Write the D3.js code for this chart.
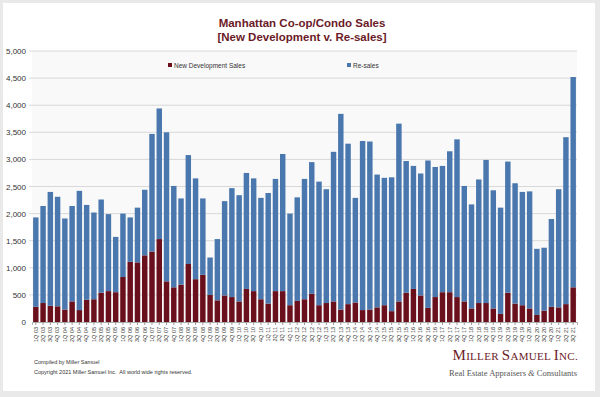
<!DOCTYPE html>
<html>
<head>
<meta charset="utf-8">
<script src="https://cdn.jsdelivr.net/npm/d3@7"></script>
<style>
  body { margin: 0; background: #e9e9e9; }
  svg { display: block; font-family: "Liberation Sans", Arial, sans-serif; }
</style>
</head>
<body>
<div id="chart"></div>
<script>
const quarters = ["1Q 03","2Q 03","3Q 03","4Q 03","1Q 04","2Q 04","3Q 04","4Q 04","1Q 05","2Q 05","3Q 05","4Q 05",
  "1Q 06","2Q 06","3Q 06","4Q 06","1Q 07","2Q 07","3Q 07","4Q 07","1Q 08","2Q 08","3Q 08","4Q 08",
  "1Q 09","2Q 09","3Q 09","4Q 09","1Q 10","2Q 10","3Q 10","4Q 10","1Q 11","2Q 11","3Q 11","4Q 11",
  "1Q 12","2Q 12","3Q 12","4Q 12","1Q 13","2Q 13","3Q 13","4Q 13","1Q 14","2Q 14","3Q 14","4Q 14",
  "1Q 15","2Q 15","3Q 15","4Q 15","1Q 16","2Q 16","3Q 16","4Q 16","1Q 17","2Q 17","3Q 17","4Q 17",
  "1Q 18","2Q 18","3Q 18","4Q 18","1Q 19","2Q 19","3Q 19","4Q 19","1Q 20","2Q 20","3Q 20","4Q 20",
  "1Q 21","2Q 21","3Q 21"]

const newDev = [280,350,300,290,230,380,220,410,420,540,570,550,
  830,1110,1100,1230,1300,1530,750,640,690,1070,790,870,
  500,400,490,460,380,610,570,420,340,570,570,310,
  390,420,520,310,350,380,230,330,360,220,230,270,
  310,200,380,540,610,490,260,460,550,550,460,380,
  250,350,350,250,150,540,340,310,250,130,210,280,
  270,330,640]

const resales = [1650,1790,2100,2020,1680,1760,2200,1750,1600,1720,1420,1020,
  1170,820,1010,1210,2170,2410,2750,1870,1590,2010,1860,1410,
  690,1130,1740,2010,1960,2140,2080,1870,2040,2070,2530,1690,
  1910,2220,2430,2280,2100,2760,3610,2960,1930,3120,3100,2450,
  2350,2470,3280,2430,2270,2250,2720,2400,2330,2600,2910,2130,
  1920,2280,2640,2180,1960,2420,2220,2090,2160,1220,1160,1620,
  2180,3080,3880]

const yTicks = [0,500,1000,1500,2000,2500,3000,3500,4000,4500,5000]

const seriesNames = ["New Development Sales", "Re-sales"]
const colors = {"New Development Sales": "#6a0f1c", "Re-sales": "#4a78ae"}

const W = 600, H = 397
const margin = {top: 51, right: 23, bottom: 75, left: 32}
const width = W - margin.left - margin.right
const height = H - margin.top - margin.bottom

const svg = d3.select("#chart")
    .append("svg")
    .attr("width", W)
    .attr("height", H)

// white card
svg.append("rect")
    .attr("x", 3).attr("y", 3)
    .attr("width", 592).attr("height", 388)
    .attr("fill", "#ffffff")

// titles
svg.append("text")
    .attr("x", 302).attr("y", 27)
    .attr("text-anchor", "middle")
    .attr("font-size", "11.5px").attr("font-weight", "bold")
    .attr("fill", "#6b1a28")
    .text("Manhattan Co-op/Condo Sales")
svg.append("text")
    .attr("x", 302).attr("y", 41)
    .attr("text-anchor", "middle")
    .attr("font-size", "11.5px").attr("font-weight", "bold")
    .attr("fill", "#6b1a28")
    .text("[New Development v. Re-sales]")

const g = svg.append("g")
    .attr("transform", `translate(${margin.left}, ${margin.top})`)

g.append("rect")
    .attr("width", width).attr("height", height)
    .attr("fill", "#f9f9f9")

const x = d3.scaleBand()
    .domain(quarters)
    .range([0, width])
    .paddingInner(0.25)
    .paddingOuter(0.15)

const y = d3.scaleLinear()
    .domain([0, 5000])
    .range([height, 0])

// gridlines
g.append("g")
    .selectAll("line")
    .data(yTicks.slice(1))
    .enter()
    .append("line")
        .attr("x1", -3).attr("x2", width)
        .attr("y1", d => y(d)).attr("y2", d => y(d))
        .attr("stroke", "#cfcfcf")
        .attr("stroke-width", 0.8)

const rows = quarters.map((q, i) => ({q, "New Development Sales": newDev[i], "Re-sales": resales[i]}))
const stacked = d3.stack().keys(seriesNames)(rows)

g.selectAll("g.series")
    .data(stacked)
    .enter()
    .append("g")
        .classed("series", true)
        .attr("fill", d => colors[d.key])
    .selectAll("rect")
    .data(d => d)
    .enter()
    .append("rect")
        .attr("x", d => x(d.data.q))
        .attr("y", d => y(d[1]))
        .attr("width", x.bandwidth())
        .attr("height", d => y(d[0]) - y(d[1]))

// axes
const yAxis = g.append("g")
    .call(d3.axisLeft(y).tickValues(yTicks).tickFormat(d3.format(",")).tickSize(0).tickPadding(6))
yAxis.select(".domain").remove()
yAxis.selectAll("text").attr("font-size", "8px").attr("fill", "#333")

const xAxis = g.append("g")
    .attr("transform", `translate(0, ${height})`)
    .call(d3.axisBottom(x).tickSize(3).tickPadding(2))
xAxis.select(".domain").attr("stroke", "#999").attr("stroke-width", 0.8)
xAxis.selectAll(".tick line").attr("stroke", "#999")
xAxis.selectAll("text")
    .attr("font-size", "5.5px")
    .attr("fill", "#333")
    .attr("transform", "rotate(-90)")
    .attr("x", -5)
    .attr("dy", "0.32em")
    .attr("y", 0)
    .style("text-anchor", "end")

// legend
const legendPos = [168, 347]
const legend = svg.append("g")
seriesNames.forEach((name, i) => {
    legend.append("rect")
        .attr("x", legendPos[i]).attr("y", 63)
        .attr("width", 4).attr("height", 4)
        .attr("fill", colors[name])
    legend.append("text")
        .attr("x", legendPos[i] + 6).attr("y", 67.5)
        .attr("font-size", "6.5px").attr("fill", "#333")
        .text(name)
})

// footer
svg.append("text")
    .attr("x", 34).attr("y", 364)
    .attr("font-size", "5.5px").attr("fill", "#333")
    .text("Compiled by Miller Samuel")
svg.append("text")
    .attr("x", 34).attr("y", 374)
    .attr("font-size", "5.5px").attr("fill", "#333")
    .attr("xml:space", "preserve")
    .text("Copyright 2021 Miller Samuel Inc.  All world wide rights reserved.")

const logo = svg.append("text")
    .attr("x", 578).attr("y", 360)
    .attr("text-anchor", "end")
    .attr("font-family", "Liberation Serif, serif")
    .attr("fill", "#6b1a28")
    .attr("letter-spacing", "0.3px")
logo.append("tspan").attr("font-size", "15px").text("M")
logo.append("tspan").attr("font-size", "11px").text("ILLER ")
logo.append("tspan").attr("font-size", "15px").text("S")
logo.append("tspan").attr("font-size", "11px").text("AMUEL ")
logo.append("tspan").attr("font-size", "15px").text("I")
logo.append("tspan").attr("font-size", "11px").text("NC.")

const sub = svg.append("text")
    .attr("x", 577).attr("y", 376)
    .attr("text-anchor", "end")
    .attr("font-family", "Liberation Serif, serif")
    .attr("font-size", "8.5px")
    .attr("fill", "#555")
sub.append("tspan").text("Real Estate Appraisers ")
sub.append("tspan").attr("font-style", "italic").text("&")
sub.append("tspan").text(" Consultants")
</script>
</body>
</html>
